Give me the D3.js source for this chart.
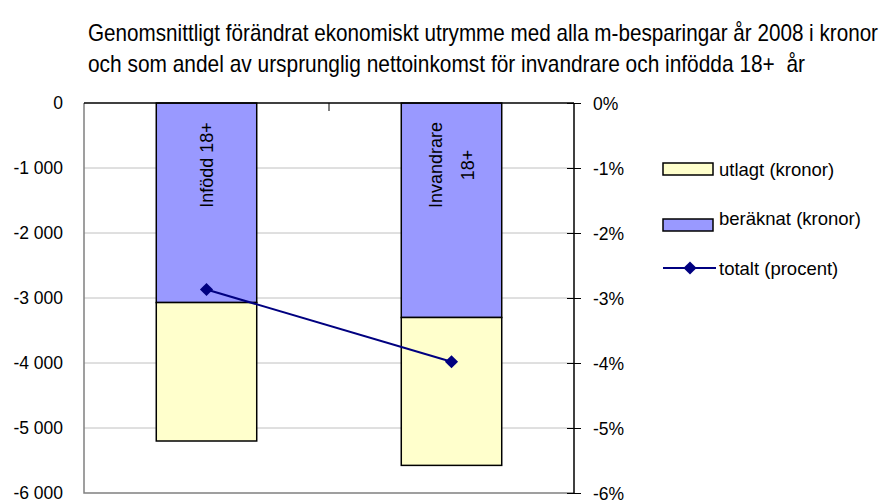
<!DOCTYPE html>
<html>
<head>
<meta charset="utf-8">
<script src="https://cdn.jsdelivr.net/npm/d3@7"></script>
<style>
  body { margin: 0; background: #fff; }
  svg { font-family: "Liberation Sans", Arial, sans-serif; }
</style>
</head>
<body>
<svg width="883" height="500"></svg>
<script>
// data
var categories = ["Infödd 18+", "Invandrare 18+"];
var barLabels = [["Infödd 18+"], ["Invandrare", "18+"]];
var beraknat = [-3070, -3300];   // kronor
var utlagt = [-2130, -2275];     // kronor
var totalt = [-2.87, -3.98];     // procent
var leftTicks = [0, -1000, -2000, -3000, -4000, -5000, -6000];
var rightTicks = [0, -1, -2, -3, -4, -5, -6];
var titleLines = [
  "Genomsnittligt förändrat ekonomiskt utrymme med alla m-besparingar år 2008 i kronor",
  "och som andel av ursprunglig nettoinkomst för invandrare och infödda 18+  år"
];
var legendItems = ["utlagt (kronor)", "beräknat (kronor)", "totalt (procent)"];

var svg = d3.select("svg");
var pLeft = 84, pRight = 574, pTop = 103, pBottom = 493;

var x = d3.scaleBand()
    .domain(categories)
    .range([pLeft, pRight])
    .paddingInner(0.59)
    .paddingOuter(0.295);

var y = d3.scaleLinear().domain([0, -6000]).range([pTop, pBottom]);
var y2 = d3.scaleLinear().domain([0, -6]).range([pTop, pBottom]);

// title
svg.append("g").selectAll("text")
  .data(titleLines)
  .join("text")
    .attr("x", 88)
    .attr("y", function(d, i) { return 41 + i * 31; })
    .attr("textLength", function(d, i) { return i == 0 ? 790 : 717; })
    .attr("lengthAdjust", "spacingAndGlyphs")
    .style("font-size", "24px")
    .style("white-space", "pre")
    .text(function(d) { return d; });

// gridlines
svg.append("g").selectAll("line")
  .data(leftTicks.slice(1, -1))
  .join("line")
    .attr("x1", pLeft).attr("x2", pRight)
    .attr("y1", function(d) { return y(d); })
    .attr("y2", function(d) { return y(d); })
    .style("stroke", "#c0c0c0")
    .style("stroke-width", 1);

// plot border (left + bottom)
svg.append("path")
  .attr("d", "M" + pLeft + "," + pTop + "V" + pBottom + "H" + pRight)
  .style("fill", "none")
  .style("stroke", "#808080")
  .style("stroke-width", 1.5);

// bars: beräknat from 0, utlagt stacked below
var bars = svg.append("g");
bars.selectAll("rect.ber")
  .data(categories)
  .join("rect")
    .attr("class", "ber")
    .attr("x", function(d) { return x(d); })
    .attr("width", x.bandwidth())
    .attr("y", y(0))
    .attr("height", function(d, i) { return y(beraknat[i]) - y(0); })
    .style("fill", "#9999ff")
    .style("stroke", "#000")
    .style("stroke-width", 1.5);

bars.selectAll("rect.utl")
  .data(categories)
  .join("rect")
    .attr("class", "utl")
    .attr("x", function(d) { return x(d); })
    .attr("width", x.bandwidth())
    .attr("y", function(d, i) { return y(beraknat[i]); })
    .attr("height", function(d, i) { return y(beraknat[i] + utlagt[i]) - y(beraknat[i]); })
    .style("fill", "#ffffcc")
    .style("stroke", "#000")
    .style("stroke-width", 1.5);

// labels inside the bars
categories.forEach(function(c, i) {
  var cx = x(c) + x.bandwidth() / 2;
  var lines = barLabels[i];
  lines.forEach(function(t, j) {
    var lx = cx + (j - (lines.length - 1) / 2) * 32;
    svg.append("text")
      .attr("transform", "translate(" + lx + "," + (pTop + 62) + ") rotate(-90)")
      .attr("text-anchor", "middle")
      .attr("dominant-baseline", "central")
      .style("font-size", "18px")
      .text(t);
  });
});

// top category axis (value 0)
svg.append("line")
  .attr("x1", pLeft).attr("x2", pRight)
  .attr("y1", pTop).attr("y2", pTop)
  .style("stroke", "#000").style("stroke-width", 1.5);
svg.append("g").selectAll("line")
  .data(categories.slice(1))
  .join("line")
    .attr("x1", function(d) { return x(d) - x.step() * x.paddingInner() / 2; })
    .attr("x2", function(d) { return x(d) - x.step() * x.paddingInner() / 2; })
    .attr("y1", pTop).attr("y2", pTop + 8)
    .style("stroke", "#000");

// left axis labels
var fmt = function(d) { return d3.format(",")(d).replace(/,/g, " ").replace("−", "-"); };
svg.append("g").selectAll("text")
  .data(leftTicks)
  .join("text")
    .attr("x", 63)
    .attr("y", function(d) { return y(d); })
    .attr("text-anchor", "end")
    .attr("dominant-baseline", "central")
    .style("font-size", "17.5px")
    .text(fmt);

// right axis
var yAxisR = d3.axisRight(y2)
    .tickValues(rightTicks)
    .tickSize(7)
    .tickFormat(function(d) { return d + "%"; });
var gR = svg.append("g")
    .attr("transform", "translate(" + pRight + ",0)")
    .call(yAxisR);
gR.select(".domain").attr("d", "M0," + pTop + "V" + pBottom).style("stroke", "#000").style("stroke-width", 1.5);
gR.selectAll(".tick line").attr("x1", -7).style("stroke", "#000");
gR.selectAll(".tick text")
    .attr("x", 19)
    .attr("dy", null)
    .attr("dominant-baseline", "central")
    .style("font-family", "Liberation Sans, Arial, sans-serif")
    .style("font-size", "17.5px")
    .style("fill", "#000");

// line totalt (procent)
var line = d3.line()
    .x(function(d, i) { return x(categories[i]) + x.bandwidth() / 2; })
    .y(function(d) { return y2(d); });
svg.append("path")
  .datum(totalt)
  .attr("d", line)
  .style("fill", "none")
  .style("stroke", "#000080")
  .style("stroke-width", 2);
var diamond = d3.symbol().type(d3.symbolDiamond2).size(110);
svg.append("g").selectAll("path")
  .data(totalt)
  .join("path")
    .attr("transform", function(d, i) {
      return "translate(" + (x(categories[i]) + x.bandwidth() / 2) + "," + y2(d) + ")";
    })
    .attr("d", diamond)
    .style("fill", "#000080");

// legend
var lg = svg.append("g");
var swatchColors = ["#ffffcc", "#9999ff"];
lg.selectAll("rect")
  .data(swatchColors)
  .join("rect")
    .attr("x", 663)
    .attr("y", function(d, i) { return 163 + i * 56; })
    .attr("width", 50)
    .attr("height", 12)
    .style("fill", function(d) { return d; })
    .style("stroke", "#000")
    .style("stroke-width", 1.5);
lg.append("line")
  .attr("x1", 663).attr("x2", 716)
  .attr("y1", 268).attr("y2", 268)
  .style("stroke", "#000080").style("stroke-width", 2);
lg.append("path")
  .attr("transform", "translate(690,268)")
  .attr("d", diamond)
  .style("fill", "#000080");
lg.selectAll("text")
  .data(legendItems)
  .join("text")
    .attr("x", 719)
    .attr("y", function(d, i) { return 169 + i * 49.5; })
    .attr("dominant-baseline", "central")
    .style("font-size", "18.5px")
    .text(function(d) { return d; });
</script>
</body>
</html>
